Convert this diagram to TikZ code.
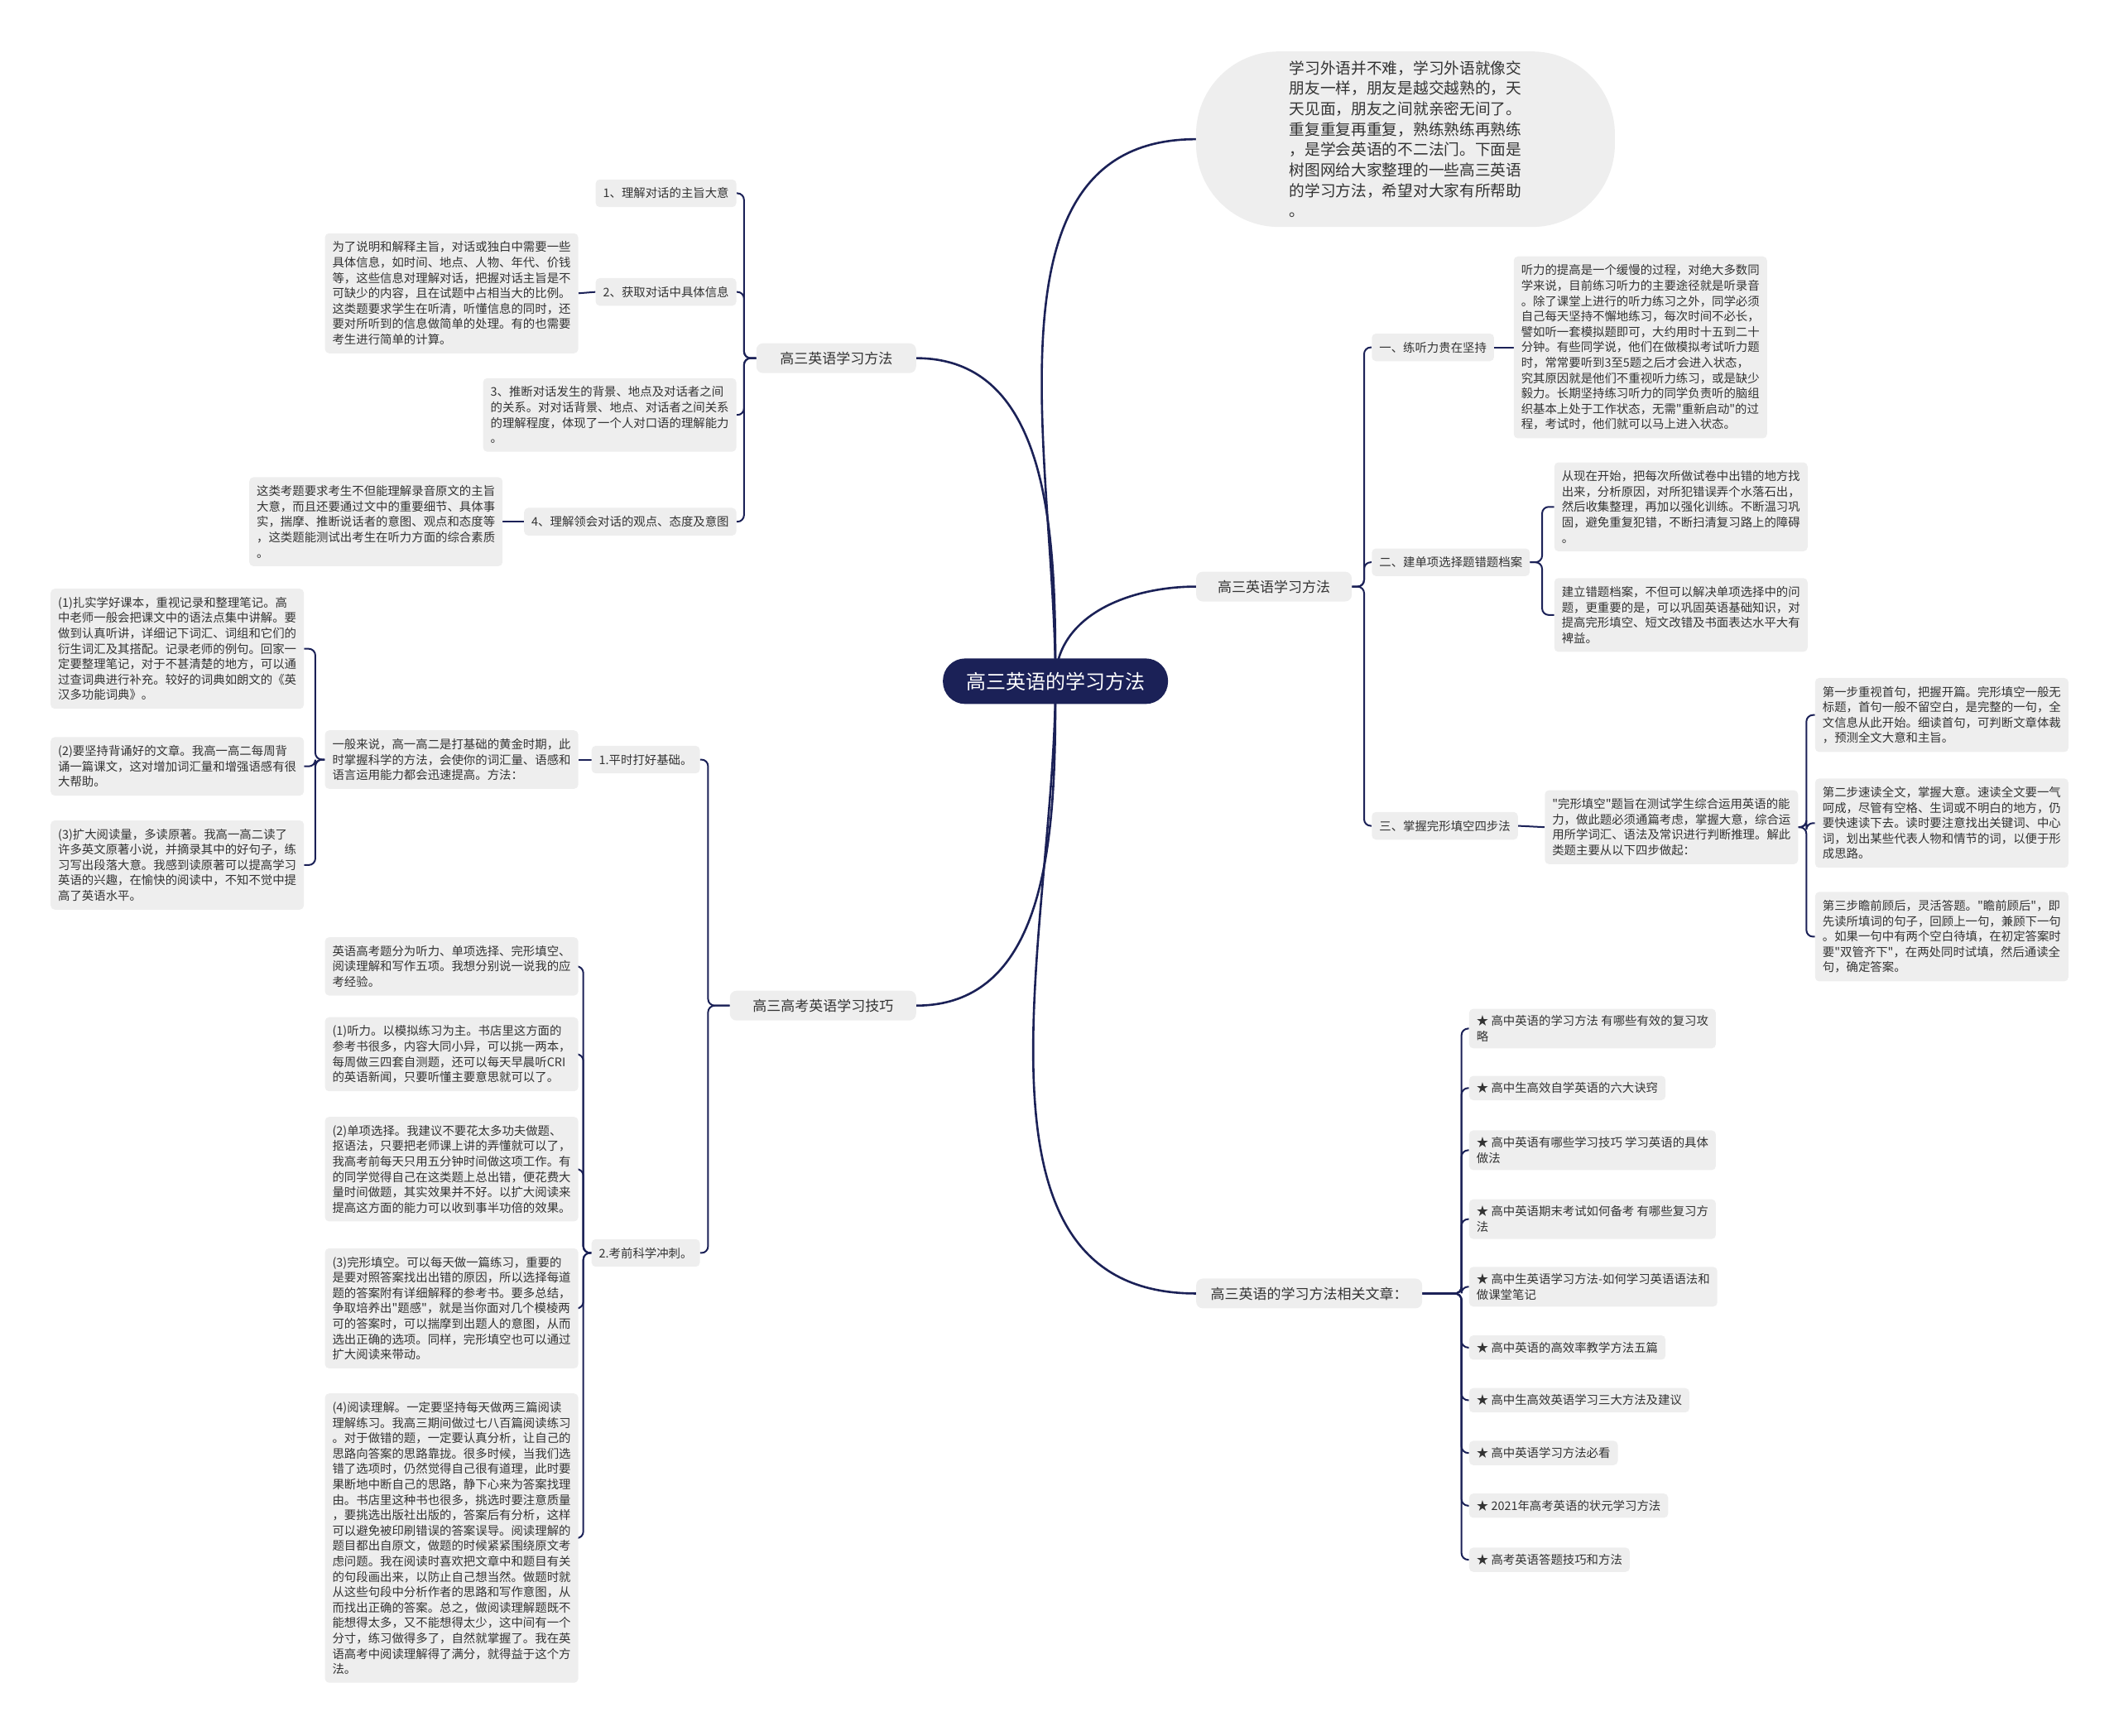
\documentclass[tikz,border=0pt]{standalone}
\usepackage{fontspec}
\setmainfont{Noto Sans CJK SC}
\usepackage{xcolor}
\usepackage{tikz}
\usetikzlibrary{backgrounds}
\definecolor{navy}{HTML}{1B2157}
\definecolor{boxgray}{HTML}{EEEEEE}
\definecolor{txt}{HTML}{333333}
\newcommand{\q}{\textquotedbl}

\begin{document}
\begin{tikzpicture}[x=1.6327pt, y=-1.6327pt,
    leaf/.style={fill=boxgray, text=txt, rounded corners=5pt, align=left,
      inner xsep=9pt, inner ysep=10pt, font=\fontsize{14.4}{18.6}\selectfont},
    sub/.style={leaf, align=center},
    article/.style={leaf, inner ysep=8pt},
    main/.style={fill=boxgray, text=txt, rounded corners=8pt, inner xsep=14pt,
      minimum height=36pt, font=\fontsize{17}{20}\selectfont},
    rootnode/.style={fill=navy, text=white, rounded corners=27pt, inner xsep=28pt,
      minimum height=55pt, font=\fontsize{24}{28}\selectfont},
    intro/.style={fill=boxgray, text=txt, rounded corners=100pt, align=left,
      minimum width=506pt, minimum height=212pt, font=\fontsize{18.7}{24.7}\selectfont},
    link/.style={draw=navy, line width=2.6pt},
    branch/.style={draw=navy, line width=2pt, rounded corners=8pt}]

    \useasboundingbox (0,0) rectangle (1568,1284);

    \node[rootnode] (root) at (781,504) {高三英语的学习方法};
    \node[intro] (intro) at (1040,103) {学习外语并不难，学习外语就像交\\朋友一样，朋友是越交越熟的，天\\天见面，朋友之间就亲密无间了。\\重复重复再重复，熟练熟练再熟练\\，是学会英语的不二法门。下面是\\树图网给大家整理的一些高三英语\\的学习方法，希望对大家有所帮助\\。};

    % right: study methods
    \node[main, anchor=west, minimum width=188pt] (rA) at (885,434) {高三英语学习方法};
    \node[sub, anchor=west] (s1) at (1015,257) {一、练听力贵在坚持};
    \node[leaf, anchor=west] (t1) at (1120,257) {听力的提高是一个缓慢的过程，对绝大多数同\\学来说，目前练习听力的主要途径就是听录音\\。除了课堂上进行的听力练习之外，同学必须\\自己每天坚持不懈地练习，每次时间不必长，\\譬如听一套模拟题即可，大约用时十五到二十\\分钟。有些同学说，他们在做模拟考试听力题\\时，常常要听到3至5题之后才会进入状态，\\究其原因就是他们不重视听力练习，或是缺少\\毅力。长期坚持练习听力的同学负责听的脑组\\织基本上处于工作状态，无需\q{}重新启动\q{}的过\\程，考试时，他们就可以马上进入状态。};
    \node[sub, anchor=west] (s2) at (1015,416) {二、建单项选择题错题档案};
    \node[leaf, anchor=west] (t2a) at (1150,375) {从现在开始，把每次所做试卷中出错的地方找\\出来，分析原因，对所犯错误弄个水落石出，\\然后收集整理，再加以强化训练。不断温习巩\\固，避免重复犯错，不断扫清复习路上的障碍\\。};
    \node[leaf, anchor=west] (t2b) at (1150,455) {建立错题档案，不但可以解决单项选择中的问\\题，更重要的是，可以巩固英语基础知识，对\\提高完形填空、短文改错及书面表达水平大有\\裨益。};
    \node[sub, anchor=west] (s3) at (1015,611) {三、掌握完形填空四步法};
    \node[leaf, anchor=west] (t3) at (1143,612) {\q{}完形填空\q{}题旨在测试学生综合运用英语的能\\力，做此题必须通篇考虑，掌握大意，综合运\\用所学词汇、语法及常识进行判断推理。解此\\类题主要从以下四步做起：};
    \node[leaf, anchor=west] (st1) at (1343,529) {第一步重视首句，把握开篇。完形填空一般无\\标题，首句一般不留空白，是完整的一句，全\\文信息从此开始。细读首句，可判断文章体裁\\，预测全文大意和主旨。};
    \node[leaf, anchor=west] (st2) at (1343,609) {第二步速读全文，掌握大意。速读全文要一气\\呵成，尽管有空格、生词或不明白的地方，仍\\要快速读下去。读时要注意找出关键词、中心\\词，划出某些代表人物和情节的词，以便于形\\成思路。};
    \node[leaf, anchor=west] (st3) at (1343,693) {第三步瞻前顾后，灵活答题。\q{}瞻前顾后\q{}，即\\先读所填词的句子，回顾上一句，兼顾下一句\\。如果一句中有两个空白待填，在初定答案时\\要\q{}双管齐下\q{}，在两处同时试填，然后通读全\\句，确定答案。};

    % right: related articles
    \node[main, anchor=west, minimum width=273pt] (rB) at (885,957) {高三英语的学习方法相关文章：};
    \node[article, anchor=west] (a1) at (1087,761) {★ 高中英语的学习方法 有哪些有效的复习攻\\略};
    \node[article, anchor=west] (a2) at (1087,805) {★ 高中生高效自学英语的六大诀窍};
    \node[article, anchor=west] (a3) at (1087,851) {★ 高中英语有哪些学习技巧 学习英语的具体\\做法};
    \node[article, anchor=west] (a4) at (1087,902) {★ 高中英语期末考试如何备考 有哪些复习方\\法};
    \node[article, anchor=west] (a5) at (1087,952) {★ 高中生英语学习方法-如何学习英语语法和\\做课堂笔记};
    \node[article, anchor=west] (a6) at (1087,997) {★ 高中英语的高效率教学方法五篇};
    \node[article, anchor=west] (a7) at (1087,1036) {★ 高中生高效英语学习三大方法及建议};
    \node[article, anchor=west] (a8) at (1087,1075) {★ 高中英语学习方法必看};
    \node[article, anchor=west] (a9) at (1087,1114) {★ 2021年高考英语的状元学习方法};
    \node[article, anchor=west] (a10) at (1087,1154) {★ 高考英语答题技巧和方法};

    % left: listening
    \node[main, anchor=east, minimum width=193pt] (lA) at (678,265) {高三英语学习方法};
    \node[sub, anchor=east] (la1) at (545,143) {1、理解对话的主旨大意};
    \node[sub, anchor=east] (la2) at (545,216) {2、获取对话中具体信息};
    \node[leaf, anchor=east] (la2t) at (428,217) {为了说明和解释主旨，对话或独白中需要一些\\具体信息，如时间、地点、人物、年代、价钱\\等，这些信息对理解对话，把握对话主旨是不\\可缺少的内容，且在试题中占相当大的比例。\\这类题要求学生在听清，听懂信息的同时，还\\要对所听到的信息做简单的处理。有的也需要\\考生进行简单的计算。};
    \node[leaf, anchor=east] (la3) at (545,307) {3、推断对话发生的背景、地点及对话者之间\\的关系。对对话背景、地点、对话者之间关系\\的理解程度，体现了一个人对口语的理解能力\\。};
    \node[sub, anchor=east] (la4) at (545,386) {4、理解领会对话的观点、态度及意图};
    \node[leaf, anchor=east] (la4t) at (372,386) {这类考题要求考生不但能理解录音原文的主旨\\大意，而且还要通过文中的重要细节、具体事\\实，揣摩、推断说话者的意图、观点和态度等\\，这类题能测试出考生在听力方面的综合素质\\。};

    % left: exam tips
    \node[main, anchor=east, minimum width=225pt] (lB) at (678,744) {高三高考英语学习技巧};
    \node[sub, anchor=east] (lb1) at (518,562) {1.平时打好基础。};
    \node[leaf, anchor=east] (lb1t) at (428,562) {一般来说，高一高二是打基础的黄金时期，此\\时掌握科学的方法，会使你的词汇量、语感和\\语言运用能力都会迅速提高。方法：};
    \node[leaf, anchor=east] (b1) at (225,480) {(1)扎实学好课本，重视记录和整理笔记。高\\中老师一般会把课文中的语法点集中讲解。要\\做到认真听讲，详细记下词汇、词组和它们的\\衍生词汇及其搭配。记录老师的例句。回家一\\定要整理笔记，对于不甚清楚的地方，可以通\\过查词典进行补充。较好的词典如朗文的《英\\汉多功能词典》。};
    \node[leaf, anchor=east] (b2) at (225,567) {(2)要坚持背诵好的文章。我高一高二每周背\\诵一篇课文，这对增加词汇量和增强语感有很\\大帮助。};
    \node[leaf, anchor=east] (b3) at (225,640) {(3)扩大阅读量，多读原著。我高一高二读了\\许多英文原著小说，并摘录其中的好句子，练\\习写出段落大意。我感到读原著可以提高学习\\英语的兴趣，在愉快的阅读中，不知不觉中提\\高了英语水平。};
    \node[sub, anchor=east] (lb2) at (518,927) {2.考前科学冲刺。};
    \node[leaf, anchor=east] (c0) at (428,715) {英语高考题分为听力、单项选择、完形填空、\\阅读理解和写作五项。我想分别说一说我的应\\考经验。};
    \node[leaf, anchor=east] (c1) at (428,780) {(1)听力。以模拟练习为主。书店里这方面的\\参考书很多，内容大同小异，可以挑一两本，\\每周做三四套自测题，还可以每天早晨听CRI\\的英语新闻，只要听懂主要意思就可以了。};
    \node[leaf, anchor=east] (c2) at (428,865) {(2)单项选择。我建议不要花太多功夫做题、\\抠语法，只要把老师课上讲的弄懂就可以了，\\我高考前每天只用五分钟时间做这项工作。有\\的同学觉得自己在这类题上总出错，便花费大\\量时间做题，其实效果并不好。以扩大阅读来\\提高这方面的能力可以收到事半功倍的效果。};
    \node[leaf, anchor=east] (c3) at (428,968) {(3)完形填空。可以每天做一篇练习，重要的\\是要对照答案找出出错的原因，所以选择每道\\题的答案附有详细解释的参考书。要多总结，\\争取培养出\q{}题感\q{}，就是当你面对几个模棱两\\可的答案时，可以揣摩到出题人的意图，从而\\选出正确的选项。同样，完形填空也可以通过\\扩大阅读来带动。};
    \node[leaf, anchor=east] (c4) at (428,1138) {(4)阅读理解。一定要坚持每天做两三篇阅读\\理解练习。我高三期间做过七八百篇阅读练习\\。对于做错的题，一定要认真分析，让自己的\\思路向答案的思路靠拢。很多时候，当我们选\\错了选项时，仍然觉得自己很有道理，此时要\\果断地中断自己的思路，静下心来为答案找理\\由。书店里这种书也很多，挑选时要注意质量\\，要挑选出版社出版的，答案后有分析，这样\\可以避免被印刷错误的答案误导。阅读理解的\\题目都出自原文，做题的时候紧紧围绕原文考\\虑问题。我在阅读时喜欢把文章中和题目有关\\的句段画出来，以防止自己想当然。做题时就\\从这些句段中分析作者的思路和写作意图，从\\而找出正确的答案。总之，做阅读理解题既不\\能想得太多，又不能想得太少，这中间有一个\\分寸，练习做得多了，自然就掌握了。我在英\\语高考中阅读理解得了满分，就得益于这个方\\法。};

    \begin{scope}[on background layer]
        \draw[link] (root.center) to[out=90, in=180] (intro.west);
        \draw[link] (root.center) to[out=90, in=180] (rA.west);
        \draw[link] (root.center) to[out=-90, in=180] (rB.west);
        \draw[link] (root.center) to[out=90, in=0] (lA.east);
        \draw[link] (root.center) to[out=-90, in=0] (lB.east);

        \foreach \c in {s1, s2, s3}
            \draw[branch] (rA.east) -- ++(9,0) |- (\c.west);
        \draw[branch] (s1.east) -- (t1.west);
        \foreach \c in {t2a, t2b}
            \draw[branch] (s2.east) -- ++(9,0) |- (\c.west);
        \draw[branch] (s3.east) -- (t3.west);
        \foreach \c in {st1, st2, st3}
            \draw[branch] (t3.east) -- ++(6,0) |- (\c.west);
        \foreach \c in {a1, a2, a3, a4, a5, a6, a7, a8, a9, a10}
            \draw[branch] (rB.east) -- ++(29,0) |- (\c.west);

        \foreach \c in {la1, la2, la3, la4}
            \draw[branch] (lA.west) -- ++(-9,0) |- (\c.east);
        \draw[branch] (la2.west) -- (la2t.east);
        \draw[branch] (la4.west) -- (la4t.east);
        \foreach \c in {lb1, lb2}
            \draw[branch] (lB.west) -- ++(-16,0) |- (\c.east);
        \draw[branch] (lb1.west) -- (lb1t.east);
        \foreach \c in {b1, b2, b3}
            \draw[branch] (lb1t.west) -- ++(-7,0) |- (\c.east);
        \foreach \c in {c0, c1, c2, c3, c4}
            \draw[branch] (lb2.west) -- ++(-6,0) |- (\c.east);
    \end{scope}
\end{tikzpicture}
\end{document}
